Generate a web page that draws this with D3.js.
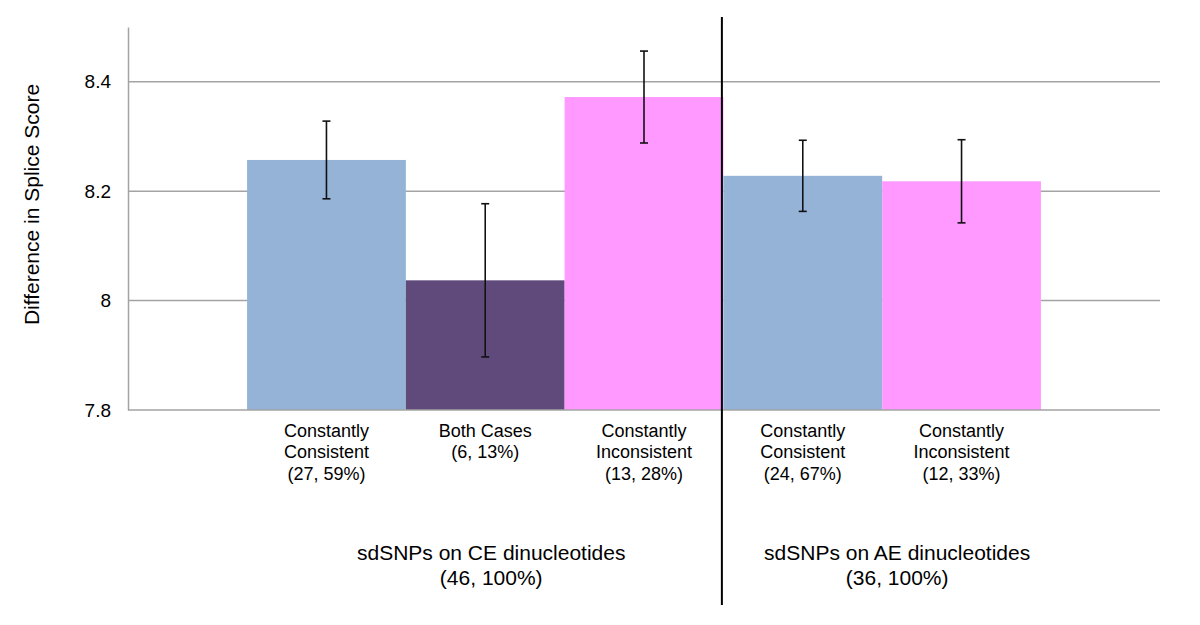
<!DOCTYPE html>
<html>
<head>
<meta charset="utf-8">
<script src="https://cdn.jsdelivr.net/npm/d3@7"></script>
<style>
  html, body { margin: 0; padding: 0; background: #fff; }
  svg { display: block; font-family: "Liberation Sans", Arial, sans-serif; }
</style>
</head>
<body>
<svg id="chart" width="1200" height="625"></svg>
<script>
// ---- data ----
const categories = ["CE-CC", "CE-BC", "CE-CI", "AE-CC", "AE-CI"];
const categoryLabels = [
  ["Constantly", "Consistent", "(27, 59%)"],
  ["Both Cases", "(6, 13%)"],
  ["Constantly", "Inconsistent", "(13, 28%)"],
  ["Constantly", "Consistent", "(24, 67%)"],
  ["Constantly", "Inconsistent", "(12, 33%)"]
];
const values = [8.257, 8.037, 8.372, 8.228, 8.218];
const errors = [0.071, 0.140, 0.084, 0.065, 0.076];
const barKinds = ["consistent", "both", "inconsistent", "consistent", "inconsistent"];
const groupNames = [["sdSNPs on CE dinucleotides", "(46, 100%)"], ["sdSNPs on AE dinucleotides", "(36, 100%)"]];
const groupMembers = [[0, 1, 2], [3, 4]];
const yTicks = [7.8, 8.0, 8.2, 8.4];
const yTickLabels = ["7.8", "8", "8.2", "8.4"];
const yTitle = "Difference in Splice Score";

// ---- styles ----
const colors = { consistent: "#95B3D7", both: "#604A7B", inconsistent: "#FF99FF" };
const gridColor = "#a3a3a3";

const svg = d3.select("#chart");
const plotLeft = 128, plotRight = 1160, plotTop = 27, plotBottom = 410;

const x = d3.scaleBand().domain(categories).range([plotLeft, plotRight]).paddingInner(0).paddingOuter(0.75);
const y = d3.scaleLinear().domain([7.8, 8.5]).range([plotBottom, plotTop]);

// gridlines
svg.append("g").selectAll("line").data(yTicks.filter(t => t > 7.8)).join("line")
  .attr("x1", plotLeft).attr("x2", plotRight)
  .attr("y1", d => y(d)).attr("y2", d => y(d))
  .attr("stroke", gridColor).attr("stroke-width", 1.5);

// bars
svg.append("g").selectAll("rect").data(categories).join("rect")
  .attr("x", d => x(d))
  .attr("width", x.bandwidth())
  .attr("y", (d, i) => y(values[i]))
  .attr("height", (d, i) => y(7.8) - y(values[i]))
  .attr("fill", (d, i) => colors[barKinds[i]]);

// axes lines
const yAxis = d3.axisLeft(y).tickValues(yTicks).tickFormat((d, i) => yTickLabels[i]).tickSize(0).tickPadding(17);
const gy = svg.append("g").attr("transform", `translate(${plotLeft},0)`).call(yAxis);
gy.select(".domain").attr("stroke", gridColor).attr("stroke-width", 1.5);
gy.selectAll("text").attr("font-size", 19).attr("fill", "#000")
  .attr("font-family", "'Liberation Sans', Arial, sans-serif");

svg.append("line").attr("x1", plotLeft).attr("x2", plotRight).attr("y1", y(7.8)).attr("y2", y(7.8))
  .attr("stroke", gridColor).attr("stroke-width", 1.5);

// error bars
const eb = svg.append("g").attr("stroke", "#111").attr("stroke-width", 1.6);
categories.forEach((c, i) => {
  const cx = x(c) + x.bandwidth() / 2;
  const y1 = y(values[i] + errors[i]), y2 = y(values[i] - errors[i]);
  eb.append("line").attr("x1", cx).attr("x2", cx).attr("y1", y1).attr("y2", y2);
  eb.append("line").attr("x1", cx - 4).attr("x2", cx + 4).attr("y1", y1).attr("y2", y1);
  eb.append("line").attr("x1", cx - 4).attr("x2", cx + 4).attr("y1", y2).attr("y2", y2);
});

// divider between groups
const divX = x(categories[3]) - 1.5;
svg.append("line").attr("x1", divX).attr("x2", divX).attr("y1", 17).attr("y2", 605)
  .attr("stroke", "#000").attr("stroke-width", 2);

// category labels
categories.forEach((c, i) => {
  const cx = x(c) + x.bandwidth() / 2;
  const t = svg.append("text").attr("text-anchor", "middle").attr("font-size", 18).attr("fill", "#000");
  categoryLabels[i].forEach((line, j) => {
    t.append("tspan").attr("x", cx).attr("y", 436.5 + j * 21.5).text(line);
  });
});

// group labels
const groupOffsets = [6, 15];
groupNames.forEach((g, gi) => {
  const m = groupMembers[gi];
  const x0 = x(categories[m[0]]), x1 = x(categories[m[m.length - 1]]) + x.bandwidth();
  const cx = (x0 + x1) / 2 + groupOffsets[gi];
  const t = svg.append("text").attr("text-anchor", "middle").attr("font-size", 21).attr("fill", "#000");
  g.forEach((line, j) => {
    t.append("tspan").attr("x", cx).attr("y", 559.5 + j * 25).text(line);
  });
});

// y title
svg.append("text")
  .attr("transform", `translate(39,${(y(8.5) + y(7.8)) / 2 - 14}) rotate(-90)`)
  .attr("text-anchor", "middle").attr("font-size", 21).attr("fill", "#000")
  .text(yTitle);
</script>
</body>
</html>
